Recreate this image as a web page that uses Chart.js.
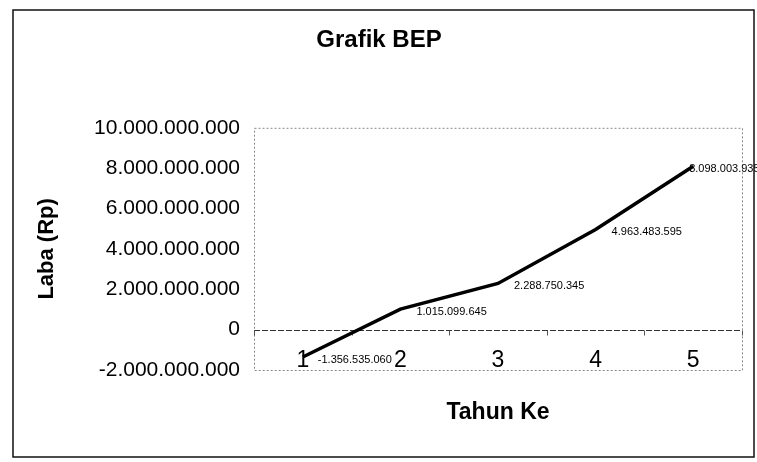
<!DOCTYPE html>
<html>
<head>
<meta charset="utf-8">
<script src="https://cdn.jsdelivr.net/npm/chart.js@4.4.1/dist/chart.umd.min.js"></script>
<style>
  html, body { margin: 0; padding: 0; background: #fff; }
  #wrap { width: 757px; height: 462px; position: relative; }
</style>
</head>
<body>
<div id="wrap"><canvas id="myChart" width="757" height="462"></canvas></div>
<script>
// data
const tahun = ["1", "2", "3", "4", "5"];
const laba = [-1356535060, 1015099645, 2288750345, 4963483595, 8098003935];
const yTicks = [-2000000000, 0, 2000000000, 4000000000, 6000000000, 8000000000, 10000000000];

const sans = "'Liberation Sans', Arial, sans-serif";

function fmt(v) {
  const s = Math.abs(Math.round(v)).toString().replace(/\B(?=(\d{3})+(?!\d))/g, ".");
  return (v < 0 ? "-" : "") + s;
}

// label nudges (last one sits on top of the line end, like the scan)
const labelDx = [15, 16, 16, 16, -4];
const labelDy = 3;

const framePlugin = {
  id: "frame",
  beforeDatasetsDraw(chart) {
    const { ctx, chartArea: a, scales } = chart;
    ctx.save();
    // plot area border, dotted grey
    ctx.strokeStyle = "#8a8a8a";
    ctx.lineWidth = 1;
    ctx.setLineDash([2, 2]);
    ctx.strokeRect(a.left + 0.5, a.top + 0.5, a.right - a.left, a.bottom - a.top);
    // zero line
    const y0 = Math.round(scales.y.getPixelForValue(0)) + 0.5;
    ctx.strokeStyle = "#333";
    ctx.setLineDash([6, 2]);
    ctx.beginPath();
    ctx.moveTo(a.left, y0);
    ctx.lineTo(a.right, y0);
    ctx.stroke();
    ctx.setLineDash([]);
    // small tick marks between categories
    ctx.strokeStyle = "#555";
    for (let i = 0; i <= tahun.length; i++) {
      const x = Math.round(scales.x.getPixelForValue(i - 0.5)) + 0.5;
      ctx.beginPath();
      ctx.moveTo(x, y0);
      ctx.lineTo(x, y0 + 5);
      ctx.stroke();
    }
    ctx.restore();
  },
  afterDraw(chart) {
    const { ctx } = chart;
    ctx.save();
    // outer chart frame
    ctx.strokeStyle = "#111";
    ctx.lineWidth = 1.5;
    ctx.strokeRect(13, 10, 741, 447);
    ctx.restore();
  },
  afterDatasetsDraw(chart) {
    const { ctx } = chart;
    const meta = chart.getDatasetMeta(0);
    ctx.save();
    ctx.fillStyle = "#000";
    ctx.font = "11px " + sans;
    ctx.textAlign = "left";
    ctx.textBaseline = "middle";
    meta.data.forEach((pt, i) => {
      ctx.fillText(fmt(laba[i]), pt.x + labelDx[i], pt.y + labelDy);
    });
    ctx.restore();
  },
};

new Chart(document.getElementById("myChart"), {
  type: "line",
  data: {
    labels: tahun,
    datasets: [
      {
        label: "Laba",
        data: laba,
        borderColor: "#000",
        borderWidth: 3.5,
        pointRadius: 0,
        tension: 0,
        fill: false,
      },
    ],
  },
  options: {
    responsive: false,
    animation: false,
    layout: { padding: { left: 16, right: 15, top: 0, bottom: 0 } },
    plugins: {
      legend: { display: false },
      tooltip: { enabled: false },
      title: {
        display: true,
        text: "Grafik BEP",
        color: "#000",
        font: { family: sans, size: 24, weight: "bold" },
        padding: { top: 26, bottom: 73 },
      },
    },
    scales: {
      x: {
        offset: true,
        grid: { display: false, drawTicks: false },
        border: { display: false },
        ticks: {
          color: "#000",
          mirror: true,
          padding: -4,
          font: { family: sans, size: 23 },
          maxRotation: 0,
        },
        title: {
          display: true,
          text: "Tahun Ke",
          color: "#000",
          font: { family: sans, size: 23, weight: "bold" },
          padding: { top: 0, bottom: 36 },
        },
        afterFit(scale) {
          scale.height = 92;
        },
      },
      y: {
        min: -2000000000,
        max: 10000000000,
        afterBuildTicks(scale) {
          scale.ticks = yTicks.map((v) => ({ value: v }));
        },
        grid: { display: false, drawTicks: false },
        border: { display: false },
        ticks: {
          color: "#000",
          padding: 14,
          font: { family: sans, size: 21 },
          callback: (v) => fmt(v),
        },
        title: {
          display: true,
          text: "Laba (Rp)",
          color: "#000",
          font: { family: sans, size: 22, weight: "bold" },
          padding: { top: 18, bottom: 0 },
        },
        afterFit(scale) {
          scale.width = 238;
        },
      },
    },
  },
  plugins: [framePlugin],
});
</script>
</body>
</html>
